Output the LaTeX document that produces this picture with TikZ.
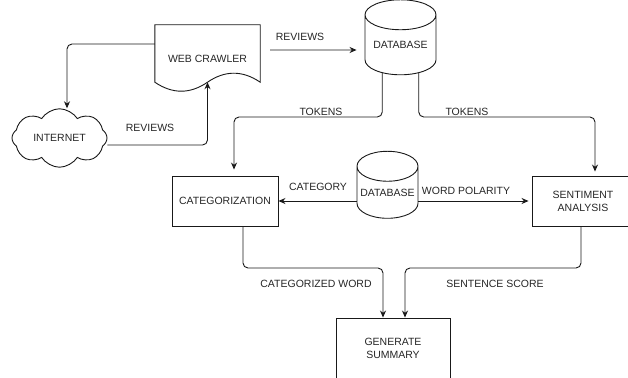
\documentclass[tikz,border=0pt]{standalone}
\usepackage{fontspec}
\setmainfont{Liberation Sans}
\usetikzlibrary{positioning,arrows.meta,shapes.geometric,shapes.symbols,calc}

\begin{document}
\begin{tikzpicture}[
          x=1pt, y=-1pt,
          font=\fontsize{10.5}{13}\selectfont, text=black!85,
          box/.style={draw=black!90, line width=0.9pt, minimum width=106pt, minimum height=50pt, align=center, inner sep=1pt},
          db/.style={draw=black!90, line width=0.9pt, cylinder, shape border rotate=90, aspect=0.55, inner sep=0pt},
          lbl/.style={inner sep=0pt},
          arr/.style={-{Stealth[length=7pt,width=6pt]}, draw=black!90, line width=0.9pt, rounded corners=5pt}
      ]
        \useasboundingbox (0,0) rectangle (628,377);
        \node[minimum width=105pt, minimum height=67pt, inner sep=0pt] (crawler) at (207.5,58.5) {WEB CRAWLER};
        \draw[draw=black!90, line width=0.9pt] ([yshift=10pt]crawler.south west) -- (crawler.north west) -- (crawler.north east) -- ([yshift=10pt]crawler.south east)
          .. controls ($(crawler.south)+(35,-22)$) and ($(crawler.south)+(17.5,-22)$) .. ([yshift=10pt]crawler.south)
          .. controls ($(crawler.south)+(-17.5,2)$) and ($(crawler.south)+(-35,2)$) .. cycle;
        \node[draw=black!90, line width=0.9pt, cloud, cloud puffs=8, cloud puff arc=115, aspect=1.6, minimum width=95pt, minimum height=58pt, inner sep=0pt] (internet) at (59.5,138) {INTERNET};
        \node[db, minimum width=71pt, minimum height=75pt] (dbreviews) at (400.5,45) {DATABASE};
        \node[db, minimum width=61pt, minimum height=67pt] (dblexicon) at (387.5,192.5) {DATABASE};
        \node[box] (categ) at (225,201) {CATEGORIZATION};
        \node[box, minimum width=102pt] (senti) at (583,201) {SENTIMENT\\ANALYSIS};
        \node[box, minimum width=114pt, minimum height=60pt] (summary) at (393,348) {GENERATE\\SUMMARY};
        % bends of the connectors
        \coordinate (tokL) at (234,117);
        \coordinate (tokR) at (595,117);
        \coordinate (wordL) at (383,268);
        \coordinate (scoreR) at (405,268);
        \draw[arr] ([yshift=14.5pt]crawler.west) -| ([xshift=7.5pt]internet.north);
        \draw[arr] ([yshift=-7pt]internet.east) -| ([yshift=10pt]crawler.south);
        \draw[arr] ([xshift=10pt,yshift=8.5pt]crawler.east) -- ([xshift=-8pt,yshift=-5pt]dbreviews.west);
        \draw[arr, shorten >=6pt] (dbreviews.-123) |- (tokL) -- (tokL |- categ.north);
        \draw[arr, shorten >=4pt] (dbreviews.-57) |- (tokR) -- (tokR |- senti.north);
        \draw[arr] (dblexicon.west |- categ.east) -- (categ.east);
        \draw[arr, shorten >=3pt] (dblexicon.east |- senti.west) -- (senti.west);
        \draw[arr] ([xshift=18pt]categ.south) |- (wordL) -- (wordL |- summary.north);
        \draw[arr] ([xshift=-2pt]senti.south) |- (scoreR) -- (scoreR |- summary.north);
        \node[lbl] (revtop) at (300,37) {REVIEWS};
        \node[lbl] (revbot) at (150,128) {REVIEWS};
        \node[lbl] (tokleft) at (321,112) {TOKENS};
        \node[lbl] (tokright) at (467,112) {TOKENS};
        \node[lbl] (catlbl) at (318,187) {CATEGORY};
        \node[lbl] (pollbl) at (466,191) {WORD POLARITY};
        \node[lbl] (wordlbl) at (316,284) {CATEGORIZED WORD};
        \node[lbl] (scorelbl) at (495,284) {SENTENCE SCORE};
      \end{tikzpicture}
\end{document}
